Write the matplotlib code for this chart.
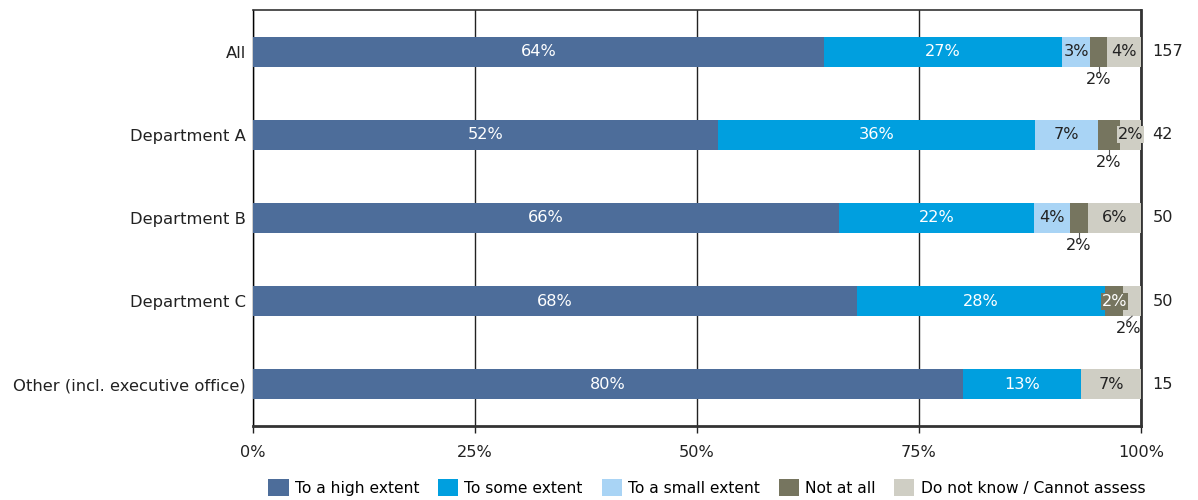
import numpy as np
from matplotlib import pyplot as plt

categories = ["All", "Department A", "Department B", "Department C", "Other (incl. executive office)"]
totals = [157, 42, 50, 50, 15]
series = ["To a high extent", "To some extent", "To a small extent", "Not at all", "Do not know / Cannot assess"]
high = [64.3, 52.4, 66.0, 68.0, 80.0]
some = [26.8, 35.7, 22.0, 28.0, 13.3]
small = [3.2, 7.1, 4.0, 0.0, 0.0]
notatall = [1.9, 2.4, 2.0, 2.0, 0.0]
dontknow = [3.8, 2.4, 6.0, 2.0, 6.7]

colors = ["#4d6d9a", "#009fdf", "#a9d4f5", "#76755f", "#cfcec4"]
text_colors = ["white", "white", "#222222", "#222222", "#222222"]

plt.rcParams['font.family'] = ['DejaVu Sans']
fig = plt.figure(figsize=(11.98, 5), dpi=100)
ax = fig.add_axes([0.2112, 0.148, 0.7412, 0.832])

fs = 11.6
y = np.arange(len(categories))
data = [high, some, small, notatall, dontknow]
left = np.zeros(len(categories))
for k, vals in enumerate(data):
    vals = np.array(vals)
    ax.barh(y, vals, left=left, height=0.36, color=colors[k], label=series[k], zorder=3)
    for i, v in enumerate(vals):
        if v <= 0:
            continue
        cx = left[i] + v / 2
        lab = f"{round(v):.0f}%"
        if v >= 2.9:
            ax.text(cx, y[i], lab, ha="center", va="center", fontsize=fs,
                    color=text_colors[k], zorder=5)
        elif k == 3 and i == 3:
            ax.text(cx, y[i], lab, ha="center", va="center", fontsize=fs, color="white",
                    zorder=6, bbox=dict(boxstyle="square,pad=0.05", fc=colors[3], ec="none"))
        elif k == 4 and i == 1:
            ax.text(cx, y[i], lab, ha="center", va="center", fontsize=fs, color="#222222",
                    zorder=6, bbox=dict(boxstyle="square,pad=0.05", fc=colors[4], ec="none"))
        elif k == 4 and i == 3:
            ax.plot([cx, cx - 0.6], [y[i] + 0.18, y[i] + 0.24], color="#555555", lw=0.8, zorder=5)
            ax.text(cx - 0.4, y[i] + 0.33, lab, ha="center", va="center", fontsize=fs,
                    color="#222222", zorder=5)
        else:
            ax.plot([cx, cx], [y[i] + 0.18, y[i] + 0.23], color="#555555", lw=0.8, zorder=5)
            ax.text(cx, y[i] + 0.33, lab, ha="center", va="center", fontsize=fs,
                    color="#222222", zorder=5)
    left += vals

for i, n in enumerate(totals):
    ax.text(101.3, y[i], str(n), ha="left", va="center", fontsize=fs, color="#222222")

ax.set_xlim(0, 100)
ax.set_ylim(4.5, -0.5)
ax.set_yticks(y)
ax.set_yticklabels(categories, fontsize=11.8, color="#222222")
ax.set_xticks([0, 25, 50, 75, 100])
ax.set_xticklabels(["0%", "25%", "50%", "75%", "100%"], fontsize=fs, color="#222222")
ax.tick_params(axis="y", length=0, pad=5)
ax.tick_params(axis="x", length=5, width=1, color="#222222", pad=9)
ax.xaxis.grid(True, color="#222222", lw=1, zorder=0)

ax.spines["left"].set_color("black")
ax.spines["left"].set_linewidth(1)
ax.spines["top"].set_color("#333333")
ax.spines["top"].set_linewidth(1.2)
ax.spines["right"].set_color("#333333")
ax.spines["right"].set_linewidth(2)
ax.spines["bottom"].set_color("#333333")
ax.spines["bottom"].set_linewidth(2)

fig.legend(loc="lower center", bbox_to_anchor=(0.59, -0.02), ncol=5, frameon=False,
           fontsize=11.2, handlelength=1.3, handleheight=1.3, handletextpad=0.4,
           columnspacing=1.2)

plt.savefig("out.png", dpi=100)
